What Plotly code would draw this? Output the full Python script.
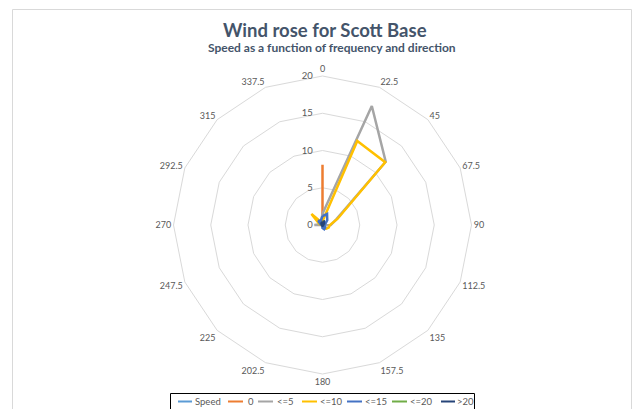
import plotly.graph_objects as go

directions = ["0", "22.5", "45", "67.5", "90", "112.5", "135", "157.5",
              "180", "202.5", "225", "247.5", "270", "292.5", "315", "337.5"]

speed = [0.2, 0.3, 0.2, 0.1, 0, 0, 0, 0, 0, 0, 0, 0, 0, 0, 0.1, 0.1]
s_0 = [8.1, 0, 0, 0, 0, 0, 0, 0, 0, 0, 0, 0, 0, 0, 0, 0]
s_le5 = [1.5, 17.3, 12.0, 2.0, 1.1, 0.2, 0, 0, 0, 0, 0, 0, 1.1, 0.3, 0.4, 0.5]
s_le10 = [0.5, 12.2, 11.9, 2.2, 1.0, 0.9, 0.7, 0.5, 0.2, 0, 0, 0, 0.2, 0.5, 2.1, 0.4]
s_le15 = [1.2, 1.6, 0.9, 0.4, 0.2, 0.3, 0.5, 0.6, 0.4, 0.1, 0, 0, 0.1, 0.3, 0.8, 0.6]
s_le20 = [0.3, 0.4, 0.2, 0.1, 0, 0, 0, 0, 0, 0, 0, 0, 0, 0, 0.1, 0.2]
s_gt20 = [0.4, 0.5, 0.3, 0.1, 0, 0, 0.1, 0.2, 0.1, 0, 0, 0, 0, 0.1, 0.2, 0.3]

series_names = ["Speed", "0", "<=5", "<=10", "<=15", "<=20", ">20"]
series_values = [speed, s_0, s_le5, s_le10, s_le15, s_le20, s_gt20]
series_colors = ["#5B9BD5", "#ED7D31", "#A5A5A5", "#FFC000", "#4472C4", "#70AD47", "#264478"]

radial_ticks = [0, 5, 10, 15, 20]

W, H = 633, 409
fig = go.Figure()
for name, vals, col in zip(series_names, series_values, series_colors):
    fig.add_trace(go.Scatterpolar(
        r=vals + vals[:1], theta=directions + directions[:1],
        mode="lines", name=name, showlegend=False,
        line=dict(color=col, width=2.5),
    ))

cx, cy, R = 322.5, 225.0, 149.0

# manual Excel-style legend (pixel layout)
leg_left, leg_top, leg_right = 170.5, 393.5, 474.5
leg_y = 401.5
line_x = [(178, 192), (228, 243), (258, 273), (302, 317), (347, 362), (392, 407), (441, 455)]
text_x = [193, 246, 275, 318, 363, 408, 455]

shapes = [
    dict(type="rect", xref="paper", yref="paper",
         x0=12.5 / W, x1=631.5 / W, y0=1 - 9.5 / H, y1=-0.1,
         line=dict(color="#D9D9D9", width=1), layer="below"),
    dict(type="rect", xref="paper", yref="paper",
         x0=leg_left / W, x1=leg_right / W, y0=1 - leg_top / H, y1=-0.1,
         line=dict(color="#000000", width=1), fillcolor="white", layer="below"),
]
annotations = [
    dict(text="<b>Wind rose for Scott Base</b>", x=325 / W, y=1 - 30 / H,
         xref="paper", yref="paper", showarrow=False, yanchor="middle",
         font=dict(size=18.5, color="#44546A", family="Lato, sans-serif")),
    dict(text="<b>Speed as a function of frequency and direction</b>", x=332 / W, y=1 - 48 / H,
         xref="paper", yref="paper", showarrow=False, yanchor="middle",
         font=dict(size=12, color="#44546A", family="Lato, sans-serif")),
]
for name, col, (lx0, lx1), tx in zip(series_names, series_colors, line_x, text_x):
    shapes.append(dict(type="line", xref="paper", yref="paper",
                       x0=lx0 / W, x1=lx1 / W, y0=1 - leg_y / H, y1=1 - leg_y / H,
                       line=dict(color=col, width=2)))
    annotations.append(dict(text=name, x=tx / W, y=1 - leg_y / H, xref="paper", yref="paper",
                            xanchor="left", yanchor="middle", showarrow=False,
                            font=dict(size=9.5, color="#595959")))

fig.update_layout(
    width=W, height=H,
    margin=dict(l=0, r=0, t=0, b=0),
    paper_bgcolor="white",
    font=dict(family="Lato, Open Sans, sans-serif", color="#595959", size=9),
    showlegend=False,
    polar=dict(
        domain=dict(x=[(cx - R) / W, (cx + R) / W], y=[1 - (cy + R) / H, 1 - (cy - R) / H]),
        bgcolor="white",
        gridshape="linear",
        angularaxis=dict(
            type="category", categoryorder="array", categoryarray=directions,
            direction="clockwise", rotation=90,
            showgrid=False, showline=True, linecolor="#D9D9D9", linewidth=1,
            ticks="", tickfont=dict(size=9, color="#595959"),
        ),
        radialaxis=dict(
            range=[0, 20], tickvals=radial_ticks, ticktext=[str(t) for t in radial_ticks],
            angle=90, tickangle=90, side="counterclockwise",
            showline=False, ticks="outside", ticklen=6, tickcolor="rgba(0,0,0,0)",
            gridcolor="#D9D9D9", gridwidth=1,
            tickfont=dict(size=9.5, color="#595959"),
        ),
    ),
    shapes=shapes,
    annotations=annotations,
)

fig.write_html("out.html")
